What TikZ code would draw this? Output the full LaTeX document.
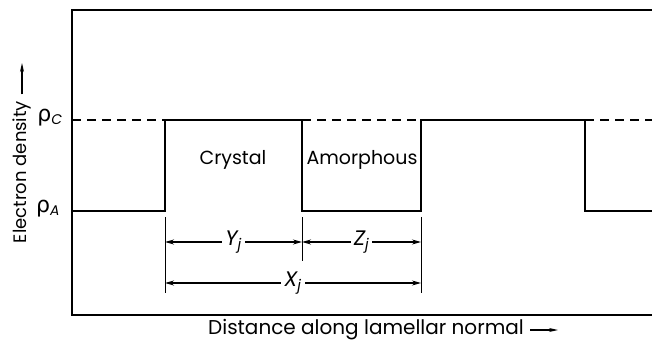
\documentclass[tikz,border=0pt]{standalone}
\usepackage{fontspec}
\setmainfont{Poppins}
\newfontfamily\greekfont{DejaVu Sans}
\usetikzlibrary{arrows.meta, positioning}

\begin{document}
\begin{tikzpicture}[x=1pt, y=-1pt, font=\fontsize{20}{24}\selectfont,
  frame/.style={line width=1.4pt},
  level/.style={line width=2.8pt, line join=miter},
  guide/.style={line width=1.2pt, dash pattern=on 9pt off 6pt},
  tick/.style={line width=1pt},
  dimarrow/.style={line width=1.2pt, {Stealth[length=9pt,width=5pt]}-{Stealth[length=9pt,width=5pt]}},
  axisarrow/.style={line width=1.2pt, shorten <=3pt, -{Stealth[length=9pt,width=4pt]}},
  region/.style={font=\fontsize{19}{22}\selectfont},
  dimlabel/.style={fill=white, inner sep=3pt, font=\fontsize{21}{24}\selectfont\itshape}]
  \useasboundingbox (0,0) rectangle (652,344);

  % Frame (open on the right)
  \draw[frame] (652,10) -- (72,10) -- (72,315) -- (652,315);

  % Crystal density level, dashed where the profile drops
  \draw[guide] (72,120) -- (165,120);
  \draw[guide] (302,120) -- (421,120);
  \draw[guide] (585,120) -- (652,120);

  % Density profile
  \draw[level] (72,211) -- (165,211) -- (165,120) -- (302,120) -- (302,211)
    -- (421,211) -- (421,120) -- (585,120) -- (585,211) -- (652,211);

  % Levels
  \node (rhoC) at (50,118) {{\greekfont\fontsize{22}{24}\selectfont ρ}\textsubscript{\itshape C}};
  \node (rhoA) at (48,209) {{\greekfont\fontsize{22}{24}\selectfont ρ}\textsubscript{\itshape A}};

  % Regions
  \node[region] (crystal) at (233,160) {Crystal};
  \node[region] (amorphous) at (362,160) {Amorphous};

  % Dimension ticks
  \coordinate (tickA) at (165,217);
  \coordinate (tickB) at (302,217);
  \coordinate (tickC) at (421,217);
  \draw[tick] (tickA) -- ++(0,76);
  \draw[tick] (tickB) -- ++(0,44);
  \draw[tick] (tickC) -- ++(0,76);

  % Dimension arrows
  \coordinate (yL) at (165,242);
  \coordinate (yR) at (302,242);
  \coordinate (zR) at (421,242);
  \coordinate (xL) at (165,283);
  \coordinate (xR) at (421,283);
  \draw[dimarrow] (yL) -- node[dimlabel] (Yj) {Y\textsubscript{j}} (yR);
  \draw[dimarrow] (yR) -- node[dimlabel] (Zj) {Z\textsubscript{j}} (zR);
  \draw[dimarrow] (xL) -- node[dimlabel] (Xj) {X\textsubscript{j}} (xR);

  % Axis labels
  \node[rotate=90, font=\fontsize{18}{20}\selectfont] (ylabel) at (22,172) {Electron density};
  \coordinate (ytip) at (22,63);
  \draw[axisarrow] (ylabel.east) -- (ytip);
  \node (xlabel) at (366,330) {Distance along lamellar normal};
  \coordinate (xtip) at (558,330);
  \draw[axisarrow] (xlabel.east) -- (xtip);
\end{tikzpicture}
\end{document}
